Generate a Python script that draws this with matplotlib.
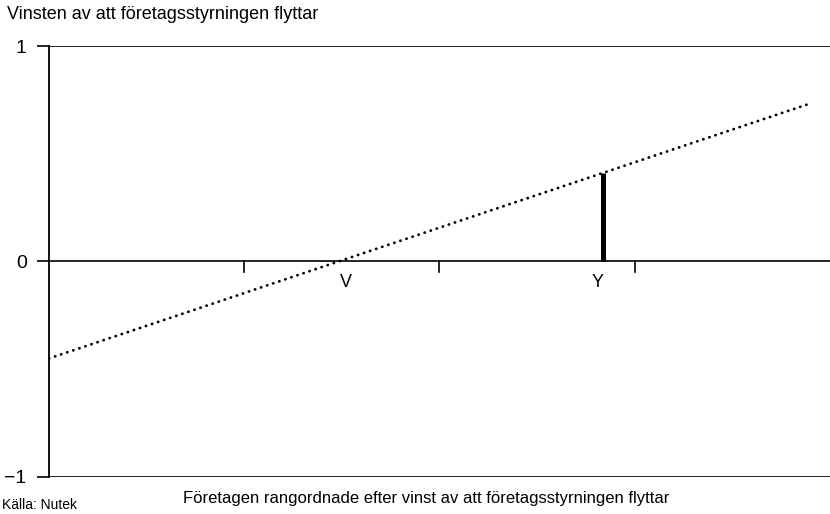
import matplotlib.pyplot as plt

plt.rcParams['font.family'] = ['Liberation Sans', 'DejaVu Sans']

# data
line_x = [0.0, 0.972]
line_y = [-0.45, 0.73]
tick_x = [0.25, 0.5, 0.75]
label_pos = [0.380, 0.703]
label_txt = ['V', 'Y']
bar_x = 0.709
bar_top = 0.41

fig = plt.figure(figsize=(8.3, 5.14), dpi=100)
ax = fig.add_axes([0.059, 0.072, 0.941, 0.8385])

ax.plot(line_x, line_y, color='black', lw=2.0, linestyle=(0, (0.1, 2.2)),
        dash_capstyle='round')
ax.plot([bar_x, bar_x], [0, bar_top], color='black', lw=3.6, solid_capstyle='butt')

# zero line and ticks on it
ax.axhline(0, color='black', lw=1.2)
ax.axhline(1, color='black', lw=1.2)
ax.axhline(-1, color='black', lw=1.2)
for t in tick_x:
    ax.plot([t, t], [0, -0.05], color='black', lw=1.2)
for p, s in zip(label_pos, label_txt):
    ax.text(p, -0.06, s, ha='center', va='top', fontsize=13)

ax.set_xlim(0, 1)
ax.set_ylim(-1, 1)
for s in ['top', 'right', 'bottom']:
    ax.spines[s].set_visible(False)
ax.spines['left'].set_linewidth(1.3)
ax.set_xticks([])
ax.set_yticks([-1, 0, 1])
ax.set_yticklabels(['\u22121', '0', '1'], fontsize=14)
ax.tick_params(axis='y', length=9, width=1.2, pad=7)

fig.text(0.008, 0.971, 'Vinsten av att f\u00f6retagsstyrningen flyttar', fontsize=13,
         ha='left', va='center')
fig.text(0.513, 0.03, 'F\u00f6retagen rangordnade efter vinst av att f\u00f6retagsstyrningen flyttar',
         fontsize=12, ha='center', va='center')
fig.text(0.002, 0.004, 'K\u00e4lla: Nutek', fontsize=10, ha='left', va='bottom')

fig.savefig('out.png', dpi=100)
